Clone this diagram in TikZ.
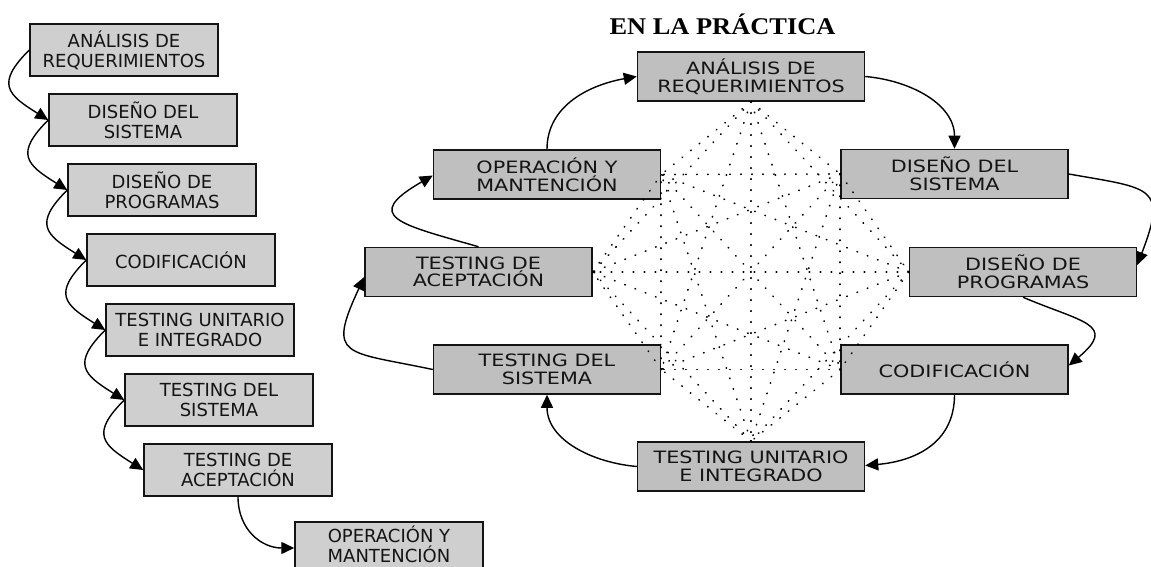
\documentclass[tikz,border=0pt]{standalone}
\usepackage{fontspec}
\usetikzlibrary{arrows.meta}
\newfontfamily\boxfont{DejaVu Sans}
\newfontfamily\wideboxfont[FakeStretch=1.22]{DejaVu Sans}
\newfontfamily\titlefont[FakeStretch=1.1]{Liberation Serif}
\definecolor{lightbox}{RGB}{207,207,207}
\definecolor{darkbox}{RGB}{191,191,191}
\definecolor{edge}{RGB}{20,20,20}
\tikzset{
  phase/.style={draw=edge, line width=1.5pt, inner sep=0pt, align=center, text=edge},
  leftphase/.style={phase, fill=lightbox, minimum width=188pt, minimum height=52pt,
    font=\boxfont\fontsize{18}{20}\selectfont},
  rightphase/.style={phase, fill=darkbox, minimum width=227pt, minimum height=49pt,
    font=\wideboxfont\fontsize{17}{17.5}\selectfont},
  flow/.style={-{Triangle[length=13pt,width=12pt]}, line width=1.4pt, draw=black},
  mesh/.style={line width=1.6pt, dash pattern=on 0.6pt off 10.4pt, line cap=round, draw=black},
}
\begin{document}
\begin{tikzpicture}[x=1pt,y=1pt]
\fill[white] (0,0) rectangle (1151,-567);
\useasboundingbox (0,0) rectangle (1151,-567);

% ---- waterfall (left) ----
\node[leftphase] (l1) at (124,-50)  {ANÁLISIS DE\\REQUERIMIENTOS};
\node[leftphase] (l2) at (143,-120) {DISEÑO DEL\\SISTEMA};
\node[leftphase] (l3) at (162,-190) {DISEÑO DE\\PROGRAMAS};
\node[leftphase] (l4) at (181,-260) {CODIFICACIÓN};
\node[leftphase] (l5) at (200,-330) {TESTING UNITARIO\\E INTEGRADO};
\node[leftphase] (l6) at (219,-400) {TESTING DEL\\SISTEMA};
\node[leftphase] (l7) at (238,-470) {TESTING DE\\ACEPTACIÓN};
\node[leftphase, text depth=7pt] (l8) at (389,-548) {OPERACIÓN Y\\MANTENCIÓN};

\foreach \i [evaluate=\i as \n using int(\i+1)] in {1,...,6}
  \draw[flow] (l\i.west) to[out=225, in=148, looseness=1.7] (l\n.west);
\draw[flow] (l7.south) to[out=-90, in=180, looseness=1.1] (l8.west);

% ---- iterative cycle (right) ----
\node[font=\titlefont\bfseries\fontsize{24}{24}\selectfont, anchor=base] (title) at (722.5,-35) {EN LA PRÁCTICA};

\node[rightphase] (rA)   at (751,-76.5)   {ANÁLISIS DE\\REQUERIMIENTOS};
\node[rightphase] (rDS)  at (954.5,-174)  {DISEÑO DEL\\SISTEMA};
\node[rightphase] (rDP)  at (1023,-272)   {DISEÑO DE\\PROGRAMAS};
\node[rightphase] (rCOD) at (954.5,-369.5){CODIFICACIÓN};
\node[rightphase] (rTU)  at (751,-466.5)  {TESTING UNITARIO\\E INTEGRADO};
\node[rightphase] (rTS)  at (547,-369.5)  {TESTING DEL\\SISTEMA};
\node[rightphase] (rTA)  at (478.5,-272)  {TESTING DE\\ACEPTACIÓN};
\node[rightphase] (rOM)  at (547,-174.5)  {OPERACIÓN Y\\MANTENCIÓN};

% dotted web joining every pair of phases
\coordinate (m1) at (rA.south);
\coordinate (m2) at (rDS.west);
\coordinate (m3) at (rDP.west);
\coordinate (m4) at (rCOD.west);
\coordinate (m5) at (rTU.north);
\coordinate (m6) at (rTS.east);
\coordinate (m7) at (rTA.east);
\coordinate (m8) at (rOM.east);
\foreach \i [evaluate=\i as \n using int(\i+1)] in {1,...,7}
  \foreach \j in {\n,...,8}
    \draw[mesh] (m\i) -- (m\j);

% cycle arrows
\draw[flow] (rA.east) to[out=-5, in=90] (rDS.north);
\draw[flow] (rDS.east) to[out=-10, in=69, looseness=1.9] ([yshift=7pt]rDP.east);
\draw[flow] (rDP.south) to[out=-23, in=40, looseness=2.0] ([yshift=4pt]rCOD.east);
\draw[flow] (rCOD.south) to[out=-90, in=5, looseness=1.1] ([yshift=1pt]rTU.east);
\draw[flow] (rTU.west) to[out=175, in=-90] (rTS.south);
\draw[flow] (rTS.west) to[out=168, in=-115, looseness=2.0] ([yshift=-5pt]rTA.west);
\draw[flow] (rTA.north) to[out=164, in=-150, looseness=2.5] ([yshift=-1pt]rOM.west);
\draw[flow] (rOM.north) to[out=90, in=190] (rA.west);
\end{tikzpicture}
\end{document}
